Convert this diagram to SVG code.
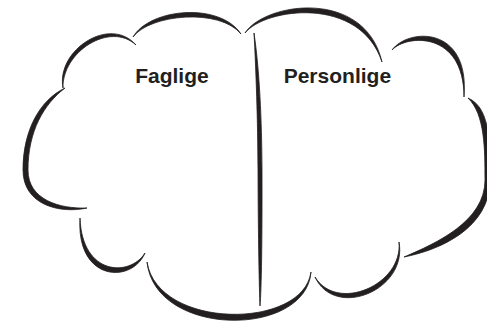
<svg xmlns="http://www.w3.org/2000/svg" width="487" height="324" viewBox="0 0 487 324">
<style>
.ink{fill:#231f20;stroke:#231f20;stroke-width:0.8;stroke-linejoin:round}
.lbl{font-family:"Liberation Sans",Arial,sans-serif;font-weight:bold;font-size:21px;fill:#231f20}
</style>
<rect width="487" height="324" fill="#ffffff"/>
<g id="cloud">
<path class="ink" d="M63,88 C56,50 110,15 136,45 C110,21 62,52 63,88 Z"/>
<path class="ink" d="M133,37 C150,8 220,2 241,34 C220,8 150,14 133,37 Z"/>
<path class="ink" d="M245,33 C265,2 365,-12 382,62 C360,-5 265,8 245,33 Z"/>
<path class="ink" d="M392,50 C408,28 470,25 464,97 C464,31 407,34 392,50 Z"/>
<path class="ink" d="M468,98 C492,108 490,150 490,180 C490,228 440,250 404,257 C437,243 485,221 485,180 C485,150 485,114 468,98 Z"/>
<path class="ink" d="M399,242 C408,290 335,320 315,277 C337,313 403,285 399,242 Z"/>
<path class="ink" d="M311,272 C306,338 155,338 147,262 C158,330 303,330 311,272 Z"/>
<path class="ink" d="M145,253 C132,284 76,282 80,218 C82,276 130,277 145,253 Z"/>
<path class="ink" d="M87,208 C60,214 23,205 23,170 C23,130 40,100 65,88 C44,104 28,131 28,170 C28,200 60,209 87,208 Z"/>
</g>
<g id="divider">
<path class="ink" d="M254,33 C256,70 257.8,120 258,170 C258.2,240 259.3,290 260,306 C261.5,290 262.2,240 262,170 C261.8,120 259.5,70 254,33 Z"/>
</g>
<g id="label-faglige">
<text class="lbl" x="135.2" y="82.5">Faglige</text>
</g>
<g id="label-personlige">
<text class="lbl" x="283.7" y="82.5">Personlige</text>
</g>
</svg>
